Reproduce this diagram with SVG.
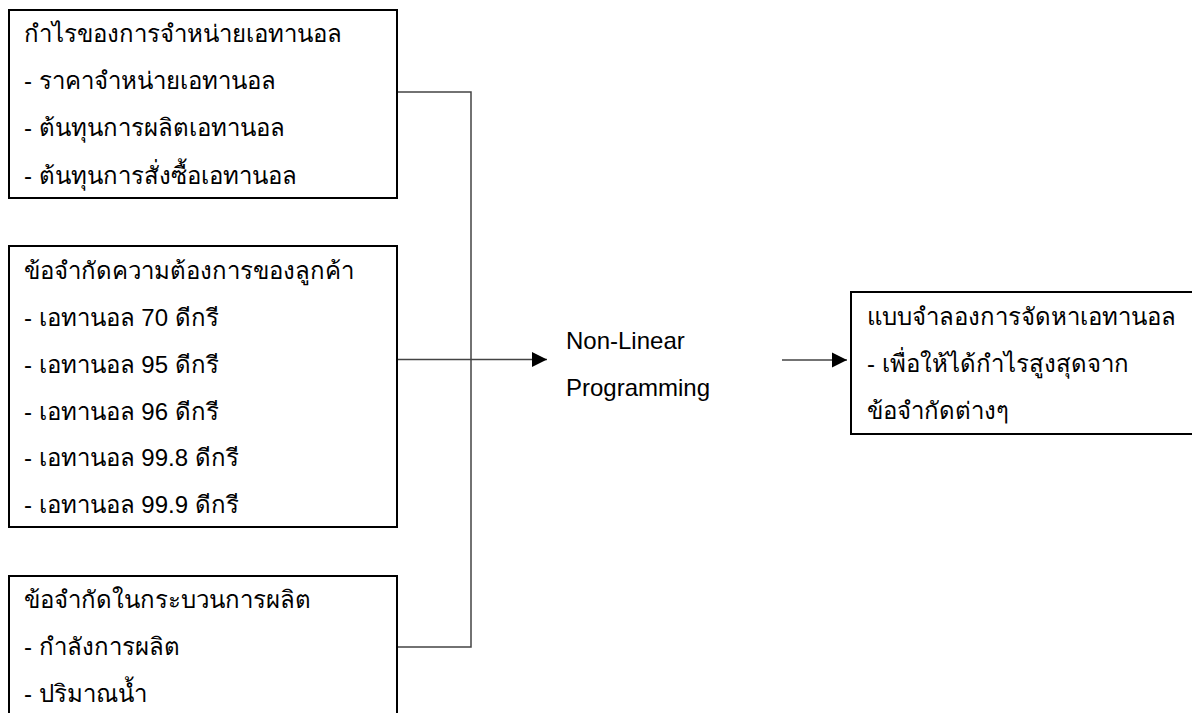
<svg xmlns="http://www.w3.org/2000/svg" width="1192" height="713" viewBox="0 0 1192 713">
<defs>
<style>
.box{fill:#fff;stroke:#000;stroke-width:2}
.th{font-family:"Liberation Sans","Noto Sans",sans-serif;font-size:24px;fill:#000}
.en{font-family:"Liberation Sans",Arial,sans-serif;font-size:24px;fill:#000}
.ln{fill:none;stroke:#444;stroke-width:1.5}
</style>
<marker id="ah" markerWidth="16" markerHeight="16" viewBox="0 0 16 16" refX="15" refY="8" orient="auto" markerUnits="userSpaceOnUse">
<path d="M0,0.5 L15,8 L0,15.5 Z" fill="#000"/>
</marker>
</defs>
<rect width="1192" height="713" fill="#fff"/>
<g id="connectors">
<path class="ln" d="M395,92 H471 V647 H395"/>
<path class="ln" d="M395,359.5 H547" marker-end="url(#ah)"/>
<path class="ln" d="M782,360 H847" marker-end="url(#ah)"/>
</g>
<g id="profit">
<rect class="box" x="9" y="10" width="388" height="188"/>
<text class="th" x="24" y="42">กำไรของการจำหน่ายเอทานอล</text>
<text class="th" x="24" y="89">- ราคาจำหน่ายเอทานอล</text>
<text class="th" x="24" y="136">- ต้นทุนการผลิตเอทานอล</text>
<text class="th" x="24" y="184">- ต้นทุนการสั่งซื้อเอทานอล</text>
</g>
<g id="demand">
<rect class="box" x="9" y="246" width="388" height="281"/>
<text class="th" x="24" y="279">ข้อจำกัดความต้องการของลูกค้า</text>
<text class="th" x="24" y="326">- เอทานอล 70 ดีกรี</text>
<text class="th" x="24" y="373">- เอทานอล 95 ดีกรี</text>
<text class="th" x="24" y="420">- เอทานอล 96 ดีกรี</text>
<text class="th" x="24" y="466">- เอทานอล 99.8 ดีกรี</text>
<text class="th" x="24" y="513">- เอทานอล 99.9 ดีกรี</text>
</g>
<g id="production">
<rect class="box" x="9" y="576" width="388" height="160"/>
<text class="th" x="24" y="608">ข้อจำกัดในกระบวนการผลิต</text>
<text class="th" x="24" y="655">- กำลังการผลิต</text>
<text class="th" x="24" y="702">- ปริมาณน้ำ</text>
</g>
<g id="nlp">
<text class="en" x="566" y="349">Non-Linear</text>
<text class="en" x="566" y="396">Programming</text>
</g>
<g id="model">
<rect class="box" x="851" y="292" width="360" height="142"/>
<text class="th" x="867" y="325">แบบจำลองการจัดหาเอทานอล</text>
<text class="th" x="867" y="372">- เพื่อให้ได้กำไรสูงสุดจาก</text>
<text class="th" x="867" y="419">ข้อจำกัดต่างๆ</text>
</g>
</svg>
